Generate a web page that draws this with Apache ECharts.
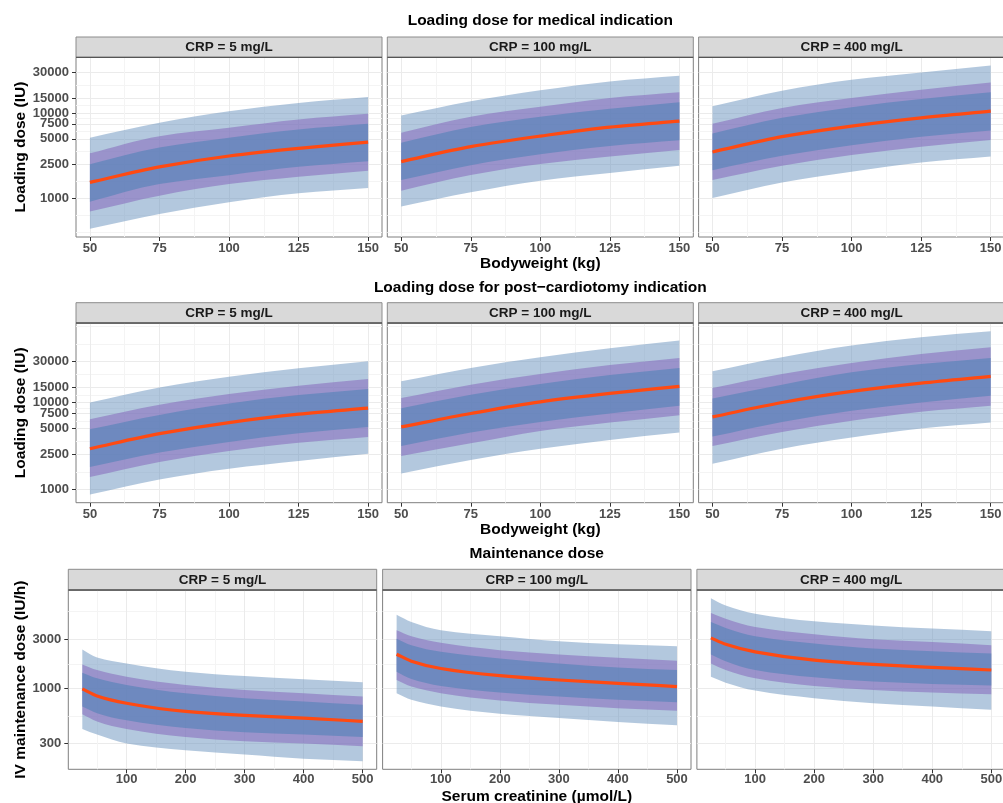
<!DOCTYPE html>
<html><head><meta charset="utf-8">
<script src="https://cdn.jsdelivr.net/npm/echarts@6/dist/echarts.min.js"></script>
<style>html,body{margin:0;padding:0;background:#fff}#c{width:1003px;height:803px}</style>
</head><body><div id="c"></div>
<script>
// ---------- categories / ticks ----------
const crpLabels = ['CRP = 5 mg/L', 'CRP = 100 mg/L', 'CRP = 400 mg/L'];
const rowTitles = ['Loading dose for medical indication', 'Loading dose for post\u2212cardiotomy indication', 'Maintenance dose'];
const bodyweight = [50, 75, 100, 125, 150];
const creatinine = [25, 50, 100, 200, 300, 400, 500];
const bwTicks = [50, 75, 100, 125, 150];
const scrTicks = [100, 200, 300, 400, 500];
const loadTicks = [1000, 2500, 5000, 7500, 10000, 15000, 30000];
const mainTicks = [300, 1000, 3000];

// ---------- Loading dose, medical indication ----------
const med5_outerLo = [438, 656, 898, 1143, 1320];
const med5_midLo   = [698, 1072, 1468, 1787, 2100];
const med5_innerLo = [912, 1468, 1870, 2340, 2720];
const med5_median  = [1540, 2340, 3140, 3860, 4570];
const med5_innerHi = [2510, 3940, 5150, 6440, 7500];
const med5_midHi   = [3380, 5370, 6730, 8410, 9810];
const med5_outerHi = [5150, 7710, 10520, 13200, 15500];

const med100_outerLo = [800, 1175, 1607, 1977, 2405];
const med100_midLo   = [1228, 1872, 2520, 3090, 3700];
const med100_innerLo = [1637, 2450, 3290, 4120, 4800];
const med100_median  = [2700, 4040, 5380, 6860, 8050];
const med100_innerHi = [4500, 6860, 9060, 11230, 13440];
const med100_midHi   = [5890, 9060, 11850, 15100, 17580];
const med100_outerHi = [9380, 13800, 18530, 23600, 27470];

const med400_outerLo = [1009, 1537, 2050, 2630, 3090];
const med400_midLo   = [1637, 2405, 3230, 4040, 4840];
const med400_innerLo = [2140, 3150, 4190, 5290, 6270];
const med400_median  = [3500, 5290, 7050, 8810, 10550];
const med400_innerHi = [5780, 8810, 11760, 14680, 17580];
const med400_midHi   = [7500, 11530, 15100, 18880, 22960];
const med400_outerHi = [12050, 18370, 24680, 30060, 36300];

// ---------- Loading dose, post-cardiotomy ----------
const pc5_outerLo = [867, 1295, 1722, 2110, 2560];
const pc5_midLo   = [1377, 2055, 2755, 3440, 4010];
const pc5_innerLo = [1800, 2640, 3510, 4410, 5230];
const pc5_median  = [2930, 4370, 5870, 7330, 8610];
const pc5_innerHi = [4910, 7190, 9750, 12170, 14290];
const pc5_midHi   = [6410, 9400, 12500, 15620, 18660];
const pc5_outerHi = [10000, 14930, 19860, 24770, 29850];

const pc100_outerLo = [1520, 2170, 2930, 3700, 4500];
const pc100_midLo   = [2410, 3380, 4700, 5870, 7140];
const pc100_innerLo = [3150, 4500, 5970, 7460, 9160];
const pc100_median  = [5230, 7460, 10190, 12740, 15350];
const pc100_innerHi = [8610, 12280, 16330, 20750, 25000];
const pc100_midHi   = [11250, 16030, 21330, 27100, 32660];
const pc100_outerHi = [17540, 25000, 33270, 42270, 51880];

const pc400_outerLo = [1966, 2930, 3940, 5000, 5870];
const pc400_midLo   = [3150, 4570, 6140, 7800, 9160];
const pc400_innerLo = [4040, 5970, 8020, 10000, 11970];
const pc400_median  = [6820, 10000, 13430, 16750, 20030];
const pc400_innerHi = [11140, 16030, 22280, 27820, 32660];
const pc400_midHi   = [14670, 21330, 28560, 36330, 43450];
const pc400_outerHi = [22910, 33270, 45400, 56750, 66550];

// ---------- Maintenance dose ----------
const mt5_outerLo = [411, 363, 298, 257, 234, 213, 202];
const mt5_midLo   = [570, 486, 411, 344, 313, 298, 281];
const mt5_innerLo = [675, 583, 497, 420, 382, 363, 344];
const mt5_median  = [995, 853, 726, 605, 554, 523, 486];
const mt5_innerHi = [1423, 1257, 1086, 904, 811, 754, 700];
const mt5_midHi   = [1710, 1510, 1303, 1086, 973, 904, 841];
const mt5_outerHi = [2370, 1990, 1746, 1455, 1321, 1229, 1151];

const mt100_outerLo = [904, 782, 675, 575, 523, 479, 445];
const mt100_midLo   = [1211, 1047, 904, 771, 700, 650, 614];
const mt100_innerLo = [1455, 1238, 1062, 918, 841, 782, 743];
const mt100_median  = [2140, 1837, 1563, 1334, 1211, 1127, 1047];
const mt100_innerHi = [3020, 2610, 2255, 1950, 1746, 1600, 1510];
const mt100_midHi   = [3630, 3180, 2750, 2340, 2130, 1977, 1850];
const mt100_outerHi = [5120, 4360, 3630, 3180, 2850, 2667, 2553];

const mt400_outerLo = [1303, 1143, 959, 811, 726, 675, 628];
const mt400_midLo   = [1746, 1510, 1257, 1062, 973, 918, 885];
const mt400_innerLo = [2130, 1837, 1510, 1285, 1169, 1109, 1072];
const mt400_median  = [3070, 2667, 2255, 1880, 1710, 1600, 1510];
const mt400_innerHi = [4360, 3820, 3180, 2710, 2427, 2290, 2178];
const mt400_midHi   = [5310, 4690, 3900, 3320, 2978, 2806, 2612];
const mt400_outerHi = [7380, 6280, 5230, 4420, 4045, 3767, 3550];

// ---------- assemble ----------
const FONT = '"Liberation Sans", Arial, Helvetica, sans-serif';
const COL_OUTER = 'rgba(103,145,189,0.5)';
const COL_MID = 'rgba(137,112,190,0.6)';
const COL_INNER = 'rgba(93,133,186,0.72)';
const COL_MEDIAN = '#FF4A12';

const rows = [
  { title: rowTitles[0], titleY: 21, stripTop: 37, top: 57.3, h: 179.7, lefts: [76, 387.3, 698.6], w: 306,
    x: bodyweight, xTicks: bwTicks, yTicks: loadTicks, yName: 'Loading dose (IU)', xName: 'Bodyweight (kg)', yNameGap: 44, xNameGap: 19, xLabMargin: 5,
    panels: [
      [med5_outerLo, med5_midLo, med5_innerLo, med5_median, med5_innerHi, med5_midHi, med5_outerHi],
      [med100_outerLo, med100_midLo, med100_innerLo, med100_median, med100_innerHi, med100_midHi, med100_outerHi],
      [med400_outerLo, med400_midLo, med400_innerLo, med400_median, med400_innerHi, med400_midHi, med400_outerHi]] },
  { title: rowTitles[1], titleY: 288, stripTop: 302.7, top: 323, h: 179.7, lefts: [76, 387.3, 698.6], w: 306,
    x: bodyweight, xTicks: bwTicks, yTicks: loadTicks, yName: 'Loading dose (IU)', xName: 'Bodyweight (kg)', yNameGap: 44, xNameGap: 19, xLabMargin: 5,
    panels: [
      [pc5_outerLo, pc5_midLo, pc5_innerLo, pc5_median, pc5_innerHi, pc5_midHi, pc5_outerHi],
      [pc100_outerLo, pc100_midLo, pc100_innerLo, pc100_median, pc100_innerHi, pc100_midHi, pc100_outerHi],
      [pc400_outerLo, pc400_midLo, pc400_innerLo, pc400_median, pc400_innerHi, pc400_midHi, pc400_outerHi]] },
  { title: rowTitles[2], titleY: 554, stripTop: 569.3, top: 590, h: 179.3, lefts: [68.3, 382.6, 696.9], w: 308.4,
    x: creatinine, xTicks: scrTicks, yTicks: mainTicks, yName: 'IV maintenance dose (IU/h)', xName: 'Serum creatinine (\u00b5mol/L)', yNameGap: 36, xNameGap: 19, xLabMargin: 4,
    panels: [
      [mt5_outerLo, mt5_midLo, mt5_innerLo, mt5_median, mt5_innerHi, mt5_midHi, mt5_outerHi],
      [mt100_outerLo, mt100_midLo, mt100_innerLo, mt100_median, mt100_innerHi, mt100_midHi, mt100_outerHi],
      [mt400_outerLo, mt400_midLo, mt400_innerLo, mt400_median, mt400_innerHi, mt400_midHi, mt400_outerHi]] }
];

function expand(lo, hi) { const d = (hi - lo) * 0.05; return [lo - d, hi + d]; }
function minorBreaks(maj, lim) {
  const b = maj.slice();
  const bd = b[1] - b[0];
  if (lim[0] < b[0]) b.unshift(b[0] - bd);
  if (lim[1] > b[b.length - 1]) b.push(b[b.length - 1] + bd);
  const out = [];
  for (let i = 0; i < b.length - 1; i++) out.push(b[i], (b[i] + b[i + 1]) / 2);
  out.push(b[b.length - 1]);
  return out.filter(v => v >= lim[0] && v <= lim[1] && !maj.some(m => Math.abs(m - v) < 1e-9));
}

// monotone cubic tangents (pixel space)
function tangents(p) {
  const n = p.length, s = [], dx = [], m = [];
  for (let i = 0; i < n - 1; i++) { dx[i] = p[i + 1][0] - p[i][0]; s[i] = (p[i + 1][1] - p[i][1]) / dx[i]; }
  m[0] = s[0]; m[n - 1] = s[n - 2];
  for (let i = 1; i < n - 1; i++) {
    if (s[i - 1] * s[i] <= 0) m[i] = 0;
    else m[i] = 3 * (dx[i - 1] + dx[i]) / ((2 * dx[i] + dx[i - 1]) / s[i - 1] + (dx[i] + 2 * dx[i - 1]) / s[i]);
  }
  return m;
}
function curveFwd(p) {
  const m = tangents(p); let d = '';
  for (let i = 0; i < p.length - 1; i++) {
    const h = (p[i + 1][0] - p[i][0]) / 3;
    d += ' C' + (p[i][0] + h) + ',' + (p[i][1] + m[i] * h) + ' ' + (p[i + 1][0] - h) + ',' + (p[i + 1][1] - m[i + 1] * h) + ' ' + p[i + 1][0] + ',' + p[i + 1][1];
  }
  return d;
}
function curveBack(p) {
  const m = tangents(p); let d = '';
  for (let i = p.length - 1; i > 0; i--) {
    const h = (p[i][0] - p[i - 1][0]) / 3;
    d += ' C' + (p[i][0] - h) + ',' + (p[i][1] - m[i] * h) + ' ' + (p[i - 1][0] + h) + ',' + (p[i - 1][1] + m[i - 1] * h) + ' ' + p[i - 1][0] + ',' + p[i - 1][1];
  }
  return d;
}
function bandRenderer(color) {
  return function (params, api) {
    if (params.dataIndexInside !== 0) return;
    const n = params.dataInsideLength;
    const up = [], dn = [];
    for (let i = 0; i < n; i++) {
      up.push(api.coord([api.value(0, i), api.value(2, i)]));
      dn.push(api.coord([api.value(0, i), api.value(1, i)]));
    }
    const d = 'M' + up[0][0] + ',' + up[0][1] + curveFwd(up) + ' L' + dn[n - 1][0] + ',' + dn[n - 1][1] + curveBack(dn) + ' Z';
    return { type: 'path', shape: { pathData: d }, style: { fill: color, stroke: null }, silent: true };
  };
}
function lineRenderer(color) {
  return function (params, api) {
    if (params.dataIndexInside !== 0) return;
    const n = params.dataInsideLength, pts = [];
    for (let i = 0; i < n; i++) pts.push(api.coord([api.value(0, i), api.value(1, i)]));
    const d = 'M' + pts[0][0] + ',' + pts[0][1] + curveFwd(pts);
    return { type: 'path', shape: { pathData: d }, style: { fill: null, stroke: color, lineWidth: 3.2, lineCap: 'butt', lineJoin: 'round' }, silent: true };
  };
}

const grids = [], xAxes = [], yAxes = [], series = [], graphics = [];
const lab = { fontFamily: FONT, fontWeight: 'bold', fontSize: 13, color: '#4D4D4D' };
const nameStyle = { fontFamily: FONT, fontWeight: 'bold', fontSize: 15.5, color: '#000' };

rows.forEach((row, r) => {
  const L = v => Math.log10(v);
  let ymin = Infinity, ymax = -Infinity;
  row.panels.forEach(p => { p[0].forEach(v => ymin = Math.min(ymin, L(v))); p[6].forEach(v => ymax = Math.max(ymax, L(v))); });
  const yLim = expand(ymin, ymax);
  const xLim = expand(Math.min(...row.x), Math.max(...row.x));
  const yMajT = row.yTicks.map(L);
  const yMinT = minorBreaks(yMajT, yLim);
  const xMinT = minorBreaks(row.xTicks, xLim);

  const spanL = row.lefts[0], spanR = row.lefts[2] + row.w;
  graphics.push({ type: 'text', x: (spanL + spanR) / 2, y: row.titleY, z: 10,
    style: { text: row.title, font: 'bold 15.5px ' + FONT, fill: '#000', textAlign: 'center', textVerticalAlign: 'middle' } });

  row.panels.forEach((p, c) => {
    const g = grids.length;
    const left = row.lefts[c];
    grids.push({ left: left, top: row.top, width: row.w, height: row.h, show: true, borderColor: '#7F7F7F', borderWidth: 1,
      backgroundColor: 'transparent', containLabel: false, outerBoundsMode: 'none' });
    xAxes.push({ type: 'value', gridIndex: g, min: xLim[0], max: xLim[1], position: 'bottom',
      axisLine: { show: false, onZero: false },
      axisTick: { show: true, length: 4, lineStyle: { color: '#333' }, customValues: row.xTicks },
      axisLabel: Object.assign({ margin: row.xLabMargin, customValues: row.xTicks }, lab),
      splitLine: { show: true, lineStyle: { color: '#EBEBEB', width: 1 } },
      name: c === 1 ? row.xName : '', nameLocation: 'middle', nameGap: row.xNameGap, nameTextStyle: nameStyle });
    xAxes.push({ type: 'value', gridIndex: g, min: xLim[0], max: xLim[1], position: 'top',
      axisLine: { show: false, onZero: false }, axisTick: { show: false, customValues: xMinT }, axisLabel: { show: false },
      splitLine: { show: true, lineStyle: { color: '#F4F4F4', width: 1 } } });
    yAxes.push({ type: 'value', gridIndex: g, min: yLim[0], max: yLim[1], position: 'left',
      axisLine: { show: false, onZero: false },
      axisTick: { show: c === 0, length: 4, lineStyle: { color: '#333' }, customValues: yMajT },
      axisLabel: Object.assign({ show: c === 0, margin: 7, customValues: yMajT, formatter: v => String(Math.round(Math.pow(10, v))) }, lab),
      splitLine: { show: true, lineStyle: { color: '#EBEBEB', width: 1 } },
      name: c === 0 ? row.yName : '', nameLocation: 'middle', nameGap: row.yNameGap, nameRotate: 90, nameTextStyle: nameStyle });
    yAxes.push({ type: 'value', gridIndex: g, min: yLim[0], max: yLim[1], position: 'right',
      axisLine: { show: false, onZero: false }, axisTick: { show: false, customValues: yMinT }, axisLabel: { show: false },
      splitLine: { show: true, lineStyle: { color: '#F4F4F4', width: 1 } } });

    const xi = 2 * g, yi = 2 * g;
    const bands = [[p[0], p[6], COL_OUTER], [p[1], p[5], COL_MID], [p[2], p[4], COL_INNER]];
    bands.forEach((b, k) => {
      series.push({ type: 'custom', xAxisIndex: xi, yAxisIndex: yi, silent: true, z: 2 + k * 0.01,
        renderItem: bandRenderer(b[2]),
        encode: { x: 0, y: [1, 2] },
        data: row.x.map((x, i) => [x, L(b[0][i]), L(b[1][i])]) });
    });
    series.push({ type: 'custom', xAxisIndex: xi, yAxisIndex: yi, silent: true, z: 3,
      renderItem: lineRenderer(COL_MEDIAN), encode: { x: 0, y: 1 },
      data: row.x.map((x, i) => [x, L(p[3][i])]) });

    const sh = row.top - row.stripTop;
    graphics.push({ type: 'rect', shape: { x: left, y: row.stripTop, width: row.w, height: sh }, z: 5,
      style: { fill: '#D9D9D9', stroke: '#8C8C8C', lineWidth: 1 } });
    graphics.push({ type: 'line', shape: { x1: left, y1: row.top, x2: left + row.w, y2: row.top }, z: 6,
      style: { stroke: '#555', lineWidth: 1.3 } });
    graphics.push({ type: 'text', x: left + row.w / 2, y: row.stripTop + sh / 2 + 0.5, z: 7,
      style: { text: crpLabels[c], font: 'bold 13.5px ' + FONT, fill: '#1A1A1A', textAlign: 'center', textVerticalAlign: 'middle' } });
  });
});

const chart = echarts.init(document.getElementById('c'), null, { renderer: 'canvas', width: 1003, height: 803 });
chart.setOption({
  animation: false,
  backgroundColor: '#fff',
  grid: grids, xAxis: xAxes, yAxis: yAxes, series: series,
  graphic: { elements: graphics }
});
</script></body></html>
